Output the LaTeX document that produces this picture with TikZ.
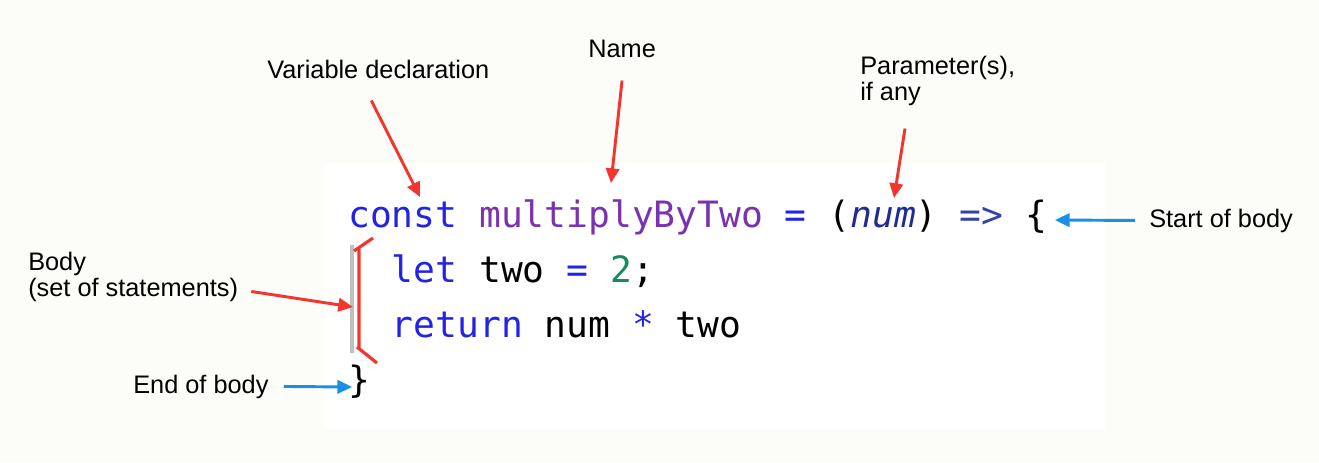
\documentclass[tikz,border=0pt]{standalone}
\usepackage{fontspec}
\setmainfont{Liberation Sans}
\setmonofont{DejaVu Sans Mono}
\usetikzlibrary{arrows.meta}
\definecolor{kwblue}{HTML}{2323E6}
\definecolor{fnpurple}{HTML}{7A32B0}
\definecolor{numgreen}{HTML}{1A8A5C}
\definecolor{prmnavy}{HTML}{1E2C94}
\definecolor{arrnavy}{HTML}{3444A4}
\definecolor{callred}{HTML}{F2362E}
\definecolor{callblue}{HTML}{1A8FE8}
\definecolor{paper}{HTML}{FCFCF8}
\def \kw #1{\textcolor{kwblue}{#1}}

\begin{document}
\begin{tikzpicture}[x=0.75pt, y=-0.75pt, >={Triangle[length=11pt,width=10pt]},
note/.style={font=\fontsize{19}{19.5}\selectfont, inner sep=0, anchor=base west, align=left},
codeline/.style={font=\ttfamily\fontsize{27.2}{33}\selectfont, inner sep=0, anchor=base west},
redarrow/.style={->, draw=callred, line width=2.2pt},
bluearrow/.style={->, draw=callblue, line width=2.2pt}
]

\fill[paper] (0,0) rectangle (1319,462);
\fill[white] (324,163) rectangle (1105,429);
\useasboundingbox (0,0) rectangle (1319,462);

% the code
\node (line1) [codeline] at (348,227) {\kw{const} \textcolor{fnpurple}{multiplyByTwo} \kw{=} (\textcolor{prmnavy}{\itshape num}) \textcolor{arrnavy}{=>} \{};
\node (line2) [codeline] at ([shift={(43.6,55)}]line1.base west) {\kw{let} two \kw{=} \textcolor{numgreen}{2};};
\node (line3) [codeline] at ([shift={(0,55)}]line2.base west) {\kw{return} num \kw{*} two};
\node (line4) [codeline] at ([shift={(-43.6,55)}]line3.base west) {\}};

\draw[gray!50, line width=2.4pt] (352,245) -- (352,353);
\draw[callred, line width=2.4pt] (373,238) -- (354,251) (359,249) -- (359,348) (357,347) -- (377,363);

% the notes (multi-line ones sit on their last line)
\node (vardecl) [note] at (267,78) {Variable declaration};
\node (name) [note] at (588,57) {Name};
\node (param) [note] at (860,100) {Parameter(s),\\if any};
\node (startbody) [note] at (1149,227) {Start of body};
\node (body) [note] at (28,296) {Body\\(set of statements)};
\node (bodyend) [note] at (133,393) {End of body};

\coordinate (const tip) at (420,197);
\coordinate (name tip) at (611,183);
\coordinate (param tip) at (894,198);
\coordinate (body tip) at (353,307);
\coordinate (open tip) at (1055,220);
\coordinate (close tip) at (352,387);

\draw[redarrow] ([shift={(-7,22)}]vardecl.south) -- (const tip);
\draw[redarrow] ([shift={(0,23)}]name.south) -- (name tip);
\draw[redarrow] ([shift={(45,23)}]param.south west) -- (param tip);
\draw[redarrow] ([shift={(13,15)}]body.east) -- (body tip);
\draw[bluearrow] ([shift={(-14,0)}]startbody.west) -- (open tip);
\draw[bluearrow] ([shift={(15,0)}]bodyend.east) -- (close tip);

\end{tikzpicture}
\end{document}
